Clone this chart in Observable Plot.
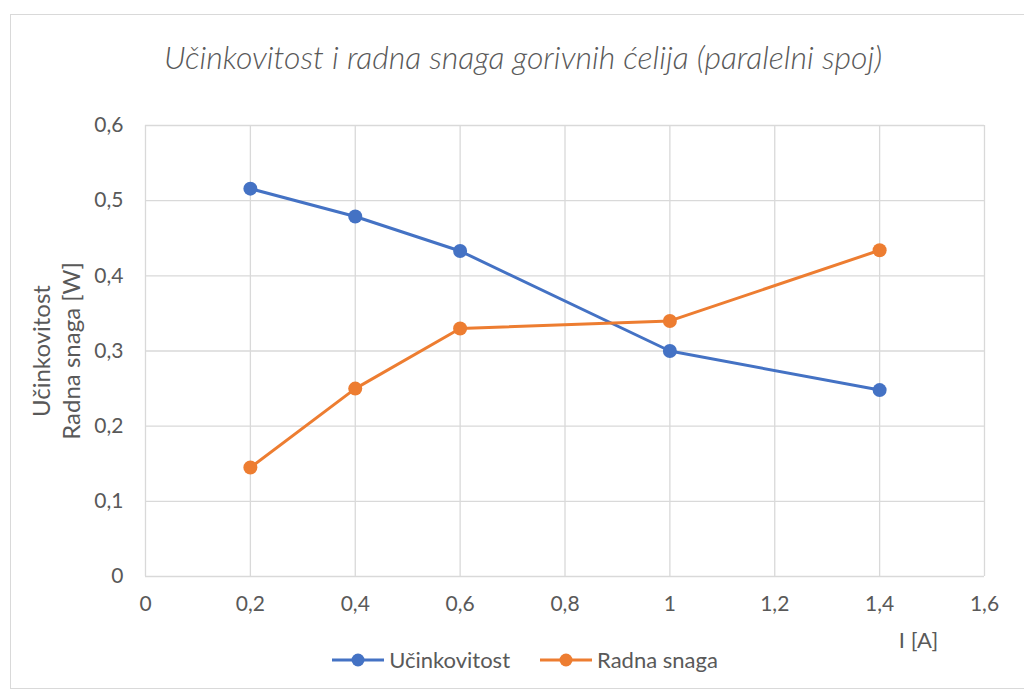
<!DOCTYPE html>
<html>
<head>
<meta charset="utf-8">
<script src="https://cdn.jsdelivr.net/npm/d3@7"></script>
<script src="https://cdn.jsdelivr.net/npm/@observablehq/plot@0.6"></script>
<style>
  body { margin: 0; background: #fff; }
  #wrap { position: relative; width: 1024px; height: 691px; overflow: hidden; font-family: Lato, "Open Sans", sans-serif; }
  #border { position: absolute; left: 10px; top: 14px; width: 1030px; height: 675px; border: 1px solid #d9d9d9; box-sizing: border-box; }
  #title { position: absolute; left: 0; top: 37px; width: 1046px; text-align: center; font-style: italic; font-size: 32px; color: #595959; font-weight: 300; white-space: nowrap; }
  #chart { position: absolute; left: 0; top: 95px; }
  #legend { position: absolute; left: 0; top: 646px; width: 1050px; display: flex; justify-content: center; gap: 30px; font-size: 22px; color: #595959; }
  .item { display: flex; align-items: center; gap: 5px; }
</style>
</head>
<body>
<div id="wrap">
  <div id="border"></div>
  <div id="title">Učinkovitost i radna snaga gorivnih ćelija (paralelni spoj)</div>
  <div id="chart"></div>
  <div id="legend"></div>
</div>
<script>
const currents = [0.2, 0.4, 0.6, 1, 1.4];
const ucinkovitost = [0.516, 0.479, 0.433, 0.300, 0.248];
const radnaSnaga = [0.145, 0.250, 0.330, 0.340, 0.434];
const seriesNames = ["Učinkovitost", "Radna snaga"];
const seriesColors = ["#4472C4", "#ED7D31"];
const xTicks = [0, 0.2, 0.4, 0.6, 0.8, 1, 1.2, 1.4, 1.6];
const yTicks = [0, 0.1, 0.2, 0.3, 0.4, 0.5, 0.6];
const yLabel = "Učinkovitost\nRadna snaga [W]";
const xLabel = "I [A]";

const rows = [];
currents.forEach((c, i) => {
  rows.push({x: c, y: ucinkovitost[i], s: seriesNames[0]});
  rows.push({x: c, y: radnaSnaga[i], s: seriesNames[1]});
});
const fmt = d => String(d).replace(".", ",");

const plot = Plot.plot({
  width: 1024,
  height: 555,
  marginTop: 30,
  marginBottom: 74,
  marginLeft: 145,
  marginRight: 40,
  style: {fontFamily: "Lato, 'Open Sans', sans-serif", fontSize: "21px", color: "#595959", background: "transparent", overflow: "visible"},
  x: {domain: [0, 1.6], ticks: xTicks, tickFormat: fmt, label: null},
  y: {domain: [0, 0.6], ticks: yTicks, tickFormat: fmt, label: null},
  color: {domain: seriesNames, range: seriesColors},
  marks: [
    Plot.gridX(xTicks, {stroke: "#d9d9d9", strokeOpacity: 1, strokeWidth: 1.3}),
    Plot.gridY(yTicks, {stroke: "#d9d9d9", strokeOpacity: 1, strokeWidth: 1.3}),
    Plot.axisX({ticks: xTicks, tickFormat: fmt, tickSize: 0, tickPadding: 20, fontSize: 21, fill: "#595959", label: null}),
    Plot.axisY({ticks: yTicks, tickFormat: fmt, tickSize: 0, tickPadding: 22, fontSize: 21, fill: "#595959", label: null}),
    Plot.line(rows, {x: "x", y: "y", z: "s", stroke: "s", strokeWidth: 3}),
    Plot.dot(rows, {x: "x", y: "y", fill: "s", r: 7}),
    Plot.text([yLabel], {frameAnchor: "left", dx: -90, rotate: -90, textAnchor: "middle", lineAnchor: "middle", text: d => d, fontSize: 24, lineHeight: 1.25, fill: "#595959"}),
    Plot.text([xLabel], {frameAnchor: "bottom-right", dx: -66, dy: 71, text: d => d, fontSize: 22, fill: "#595959", textAnchor: "middle"})
  ]
});
document.getElementById("chart").appendChild(plot);

const legend = document.getElementById("legend");
seriesNames.forEach((n, i) => {
  const item = document.createElement("div");
  item.className = "item";
  item.innerHTML = `<svg width="52" height="16"><line x1="0" y1="8" x2="52" y2="8" stroke="${seriesColors[i]}" stroke-width="3"/><circle cx="26" cy="8" r="6.5" fill="${seriesColors[i]}"/></svg><span>${n}</span>`;
  legend.appendChild(item);
});
</script>
</body>
</html>
